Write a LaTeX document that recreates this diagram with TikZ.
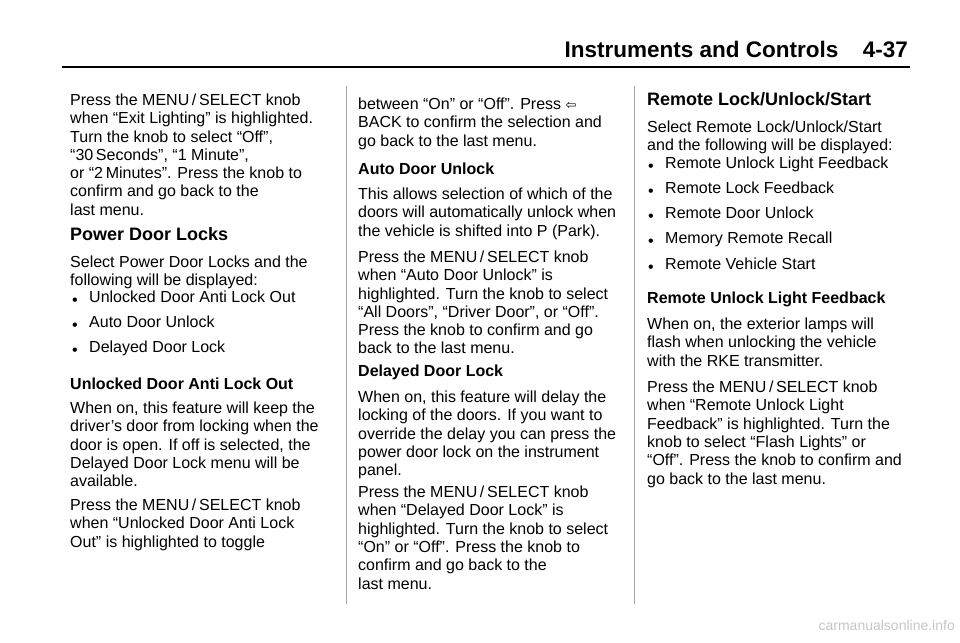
\documentclass[tikz,border=0pt]{standalone}
\usepackage{fontspec}
\setmainfont{Liberation Sans}
\newfontfamily\symfont{DejaVu Sans}
\usetikzlibrary{positioning}
\tikzset{
  txt/.style={anchor=north west, inner sep=0pt, align=left, yshift=7.3pt,
    font=\fontsize{16}{18.3}\selectfont},
  subhead/.style={txt, font=\fontsize{16}{18.3}\selectfont\bfseries},
  head/.style={txt, yshift=1pt, font=\fontsize{18}{20}\selectfont\bfseries},
  dot/.style={txt, xshift=0pt},
  sep/.style={draw=gray!70, line width=1pt}
}
\newcommand{\bulletitem}[4]{% name, x, y, text
  \node[dot] (#1b) at (#2,#3) {\textbullet};
  \node[txt, right=17pt of #1b.north west, anchor=north west, yshift=0pt] (#1) {#4};}
\begin{document}
\begin{tikzpicture}[x=1pt, y=-1pt]
  \useasboundingbox (0,0) rectangle (960,642);
  % page header
  \node[anchor=base east, inner sep=0pt, font=\fontsize{22.5}{24}\selectfont\bfseries] (pagenum) at (908,58) {4-37};
  \node[anchor=base east, inner sep=0pt, font=\fontsize{22.5}{24}\selectfont\bfseries, left=24pt of pagenum.base west, anchor=base east] (title) {Instruments and Controls};
  \draw[line width=2.5pt] (62,67) -- (910,67);
  % column rules
  \draw[sep] (346,86) -- (346,604);
  \draw[sep] (634,86) -- (634,604);

  % first column
  \node[txt] (exitp) at (70,101) {Press the MENU\,/\,SELECT knob\\when “Exit Lighting” is highlighted.\\Turn the knob to select “Off”,\\“30\,Seconds”, “1 Minute”,\\or “2\,Minutes”. Press the knob to\\confirm and go back to the\\last menu.};
  \node[head] (pdl) at (70,236) {Power Door Locks};
  \node[txt] (pdlsel) at (70,263) {Select Power Door Locks and the\\following will be displayed:};
  \bulletitem{ba}{72}{305}{Unlocked Door Anti Lock Out}
  \bulletitem{bb}{72}{330}{Auto Door Unlock}
  \bulletitem{bc}{72}{355}{Delayed Door Lock}
  \node[subhead] (udal) at (70,385) {Unlocked Door Anti Lock Out};
  \node[txt] (udalw) at (70,409) {When on, this feature will keep the\\driver's door from locking when the\\door is open. If off is selected, the\\Delayed Door Lock menu will be\\available.};
  \node[txt] (udalp) at (70,506) {Press the MENU\,/\,SELECT knob\\when “Unlocked Door Anti Lock\\Out” is highlighted to toggle};

  % second column
  \node[txt] (togg) at (358,105) {between “On” or “Off”. Press {\symfont\fontsize{13}{14}\selectfont ⇦}\\BACK to confirm the selection and\\go back to the last menu.};
  \node[subhead] (adu) at (358,170) {Auto Door Unlock};
  \node[txt] (adut) at (358,195) {This allows selection of which of the\\doors will automatically unlock when\\the vehicle is shifted into P (Park).};
  \node[txt] (adup) at (358,258) {Press the MENU\,/\,SELECT knob\\when “Auto Door Unlock” is\\highlighted. Turn the knob to select\\“All Doors”, “Driver Door”, or “Off”.\\Press the knob to confirm and go\\back to the last menu.};
  \node[subhead] (ddl) at (358,372) {Delayed Door Lock};
  \node[txt] (ddlw) at (358,398) {When on, this feature will delay the\\locking of the doors. If you want to\\override the delay you can press the\\power door lock on the instrument\\panel.};
  \node[txt] (ddlp) at (358,493) {Press the MENU\,/\,SELECT knob\\when “Delayed Door Lock” is\\highlighted. Turn the knob to select\\“On” or “Off”. Press the knob to\\confirm and go back to the\\last menu.};

  % third column
  \node[head] (rlus) at (647,101) {Remote Lock/Unlock/Start};
  \node[txt] (rlussel) at (647,128) {Select Remote Lock/Unlock/Start\\and the following will be displayed:};
  \bulletitem{ca}{648}{171}{Remote Unlock Light Feedback}
  \bulletitem{cb}{648}{196}{Remote Lock Feedback}
  \bulletitem{cc}{648}{221}{Remote Door Unlock}
  \bulletitem{cd}{648}{246}{Memory Remote Recall}
  \bulletitem{ce}{648}{272}{Remote Vehicle Start}
  \node[subhead] (rulf) at (647,299) {Remote Unlock Light Feedback};
  \node[txt] (rulfw) at (647,325) {When on, the exterior lamps will\\flash when unlocking the vehicle\\with the RKE transmitter.};
  \node[txt] (rulfp) at (647,388) {Press the MENU\,/\,SELECT knob\\when “Remote Unlock Light\\Feedback” is highlighted. Turn the\\knob to select “Flash Lights” or\\“Off”. Press the knob to confirm and\\go back to the last menu.};

  % watermark
  \node[anchor=base east, inner sep=0pt, text=gray!45, font=\fontsize{14}{16}\selectfont] (mark) at (955,630) {carmanualsonline.info};
\end{tikzpicture}
\end{document}
